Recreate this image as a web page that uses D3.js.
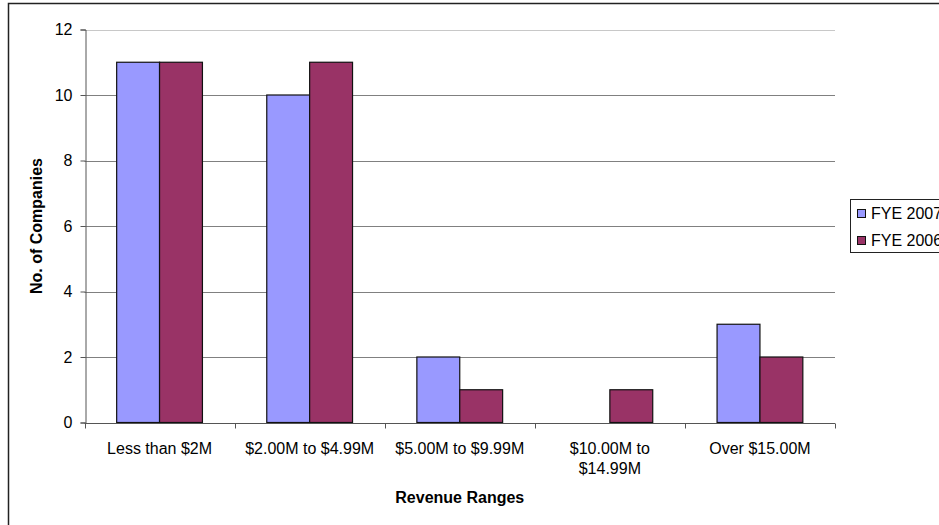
<!DOCTYPE html>
<html>
<head>
<meta charset="utf-8">
<script src="https://cdn.jsdelivr.net/npm/d3@7"></script>
<style>
  html, body { margin: 0; padding: 0; background: #fff; }
  svg { display: block; font-family: Arial, "Liberation Sans", sans-serif; }
</style>
</head>
<body>
<svg id="chart" width="939" height="525"></svg>
<script>
const categories = [["Less than $2M"], ["$2.00M to $4.99M"], ["$5.00M to $9.99M"], ["$10.00M to", "$14.99M"], ["Over $15.00M"]];
const seriesNames = ["FYE 2007", "FYE 2006"];
const fye2007 = [11, 10, 2, 0, 3];
const fye2006 = [11, 11, 1, 1, 2];
const yTicks = [0, 2, 4, 6, 8, 10, 12];
const colors = ["#9999FF", "#993366"];

(function () {
const svg = d3.select("#chart");
svg.append("rect").attr("width", 939).attr("height", 525).attr("fill", "#fff");

// chart-area border (extends past the cropped right/bottom edges)
svg.append("rect").attr("x", 8.5).attr("y", 3.5).attr("width", 1100).attr("height", 700)
  .attr("fill", "none").attr("stroke", "#222").attr("stroke-width", 1.5);

const pLeft = 84.5, pRight = 835, pTop = 29.5, pBottom = 422.5;
const idx = categories.map((d, i) => i);
const x = d3.scaleBand().domain(idx).range([pLeft, pRight]).padding(0);
const y = d3.scaleLinear().domain([0, 12]).range([pBottom, pTop]);
const xs = d3.scaleBand().domain([0, 1]).range([x.bandwidth() * 0.75 / 3.5, x.bandwidth() * 2.75 / 3.5]).padding(0);

// gridlines
svg.append("g").selectAll("line").data(yTicks.filter(t => t > 0)).join("line")
  .attr("x1", pLeft).attr("x2", pRight)
  .attr("y1", d => Math.round(y(d)) + 0.5).attr("y2", d => Math.round(y(d)) + 0.5)
  .attr("stroke", d => d === 12 ? "#c8c8c8" : "#808080").attr("stroke-width", 1);

// bars
const series = [fye2007, fye2006];
series.forEach((vals, s) => {
  svg.append("g").selectAll("rect").data(vals).join("rect")
    .attr("x", (d, i) => x(i) + xs(s))
    .attr("width", xs.bandwidth())
    .attr("y", d => y(d))
    .attr("height", d => y(0) - y(d))
    .attr("fill", colors[s])
    .attr("stroke", d => d > 0 ? "#111" : "none")
    .attr("stroke-width", 1.2);
});

// y axis
const yAxis = d3.axisLeft(y).tickValues(yTicks).tickSize(5).tickPadding(8).tickFormat(d3.format("d"));
const gy = svg.append("g").attr("transform", `translate(${Math.round(pLeft) + 0.5},0)`).call(yAxis);
gy.select(".domain").attr("stroke", "#555");
gy.selectAll(".tick line").attr("stroke", "#555");
gy.selectAll(".tick text").attr("font-size", 16).attr("fill", "#000").attr("font-family", "Arial, 'Liberation Sans', sans-serif");

// x axis
const xEdges = d3.scaleLinear().domain([0, categories.length]).range([pLeft, pRight]);
const gx = svg.append("g").attr("transform", `translate(0,${Math.round(pBottom) + 0.5})`);
gx.append("line").attr("x1", pLeft).attr("x2", pRight).attr("stroke", "#555");
gx.selectAll("line.tk").data(d3.range(categories.length + 1)).join("line").attr("class", "tk")
  .attr("x1", d => Math.round(xEdges(d)) + 0.5).attr("x2", d => Math.round(xEdges(d)) + 0.5)
  .attr("y1", 0).attr("y2", 5).attr("stroke", "#555");
const lab = gx.selectAll("text").data(categories).join("text")
  .attr("text-anchor", "middle").attr("font-size", 16).attr("fill", "#000")
  .attr("transform", (d, i) => `translate(${x(i) + x.bandwidth() / 2},30)`);
lab.selectAll("tspan").data(d => d).join("tspan")
  .attr("x", 0).attr("y", (d, j) => j * 20.5).text(d => d);

// axis titles
svg.append("text").attr("x", (pLeft + pRight) / 2).attr("y", 503).attr("text-anchor", "middle")
  .attr("font-size", 16).attr("font-weight", "bold").text("Revenue Ranges");
svg.append("text").attr("transform", `translate(42,${(pTop + pBottom) / 2}) rotate(-90)`)
  .attr("text-anchor", "middle").attr("font-size", 16).attr("font-weight", "bold").text("No. of Companies");

// legend
const lg = svg.append("g");
lg.append("rect").attr("x", 850.5).attr("y", 199.5).attr("width", 200).attr("height", 53)
  .attr("fill", "#fff").attr("stroke", "#222").attr("stroke-width", 1);
seriesNames.forEach((n, i) => {
  lg.append("rect").attr("x", 857.5).attr("y", 209.5 + i * 27).attr("width", 8).attr("height", 8)
    .attr("fill", colors[i]).attr("stroke", "#111");
  lg.append("text").attr("x", 871).attr("y", 218.5 + i * 27).attr("font-size", 16).text(n);
});
})();
</script>
</body>
</html>
